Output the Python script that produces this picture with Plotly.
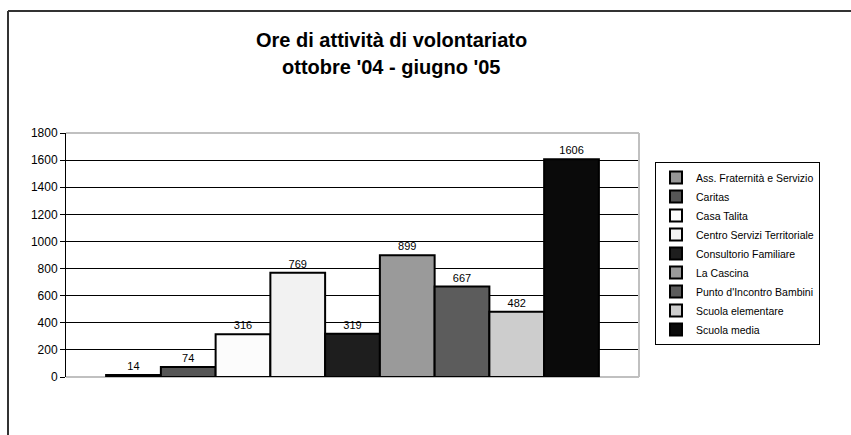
import plotly.graph_objects as go

categories = ["Ass. Fraternità e Servizio", "Caritas", "Casa Talita",
              "Centro Servizi Territoriale", "Consultorio Familiare", "La Cascina",
              "Punto d'Incontro Bambini", "Scuola elementare", "Scuola media"]
values = [14, 74, 316, 769, 319, 899, 667, 482, 1606]
colors = ["#969696", "#555555", "#fcfcfc", "#f2f2f2", "#1e1e1e",
          "#9a9a9a", "#5c5c5c", "#cdcdcd", "#0a0a0a"]
y_ticks = [0, 200, 400, 600, 800, 1000, 1200, 1400, 1600, 1800]
title_lines = ["Ore di attività di volontariato", "ottobre '04 - giugno '05"]

FONT = "Liberation Sans, Arial, sans-serif"

W, H = 851, 435
L, R, T, B = 66, 212, 133, 58
pw = W - L - R
ph = H - T - B

def px_x(p):
    return (p - L) / pw

def px_y(p):
    return (H - B - p) / ph

fig = go.Figure()
for name, v, c in zip(categories, values, colors):
    fig.add_trace(go.Bar(
        x=[""], y=[v], name=name,
        marker=dict(color=c, line=dict(color="#000000", width=2)),
        text=[str(v)], textposition="outside", cliponaxis=False,
        textfont=dict(family=FONT, size=11, color="#000000"),
    ))

fig.update_layout(
    width=W, height=H, autosize=False,
    margin=dict(l=L, r=R, t=T, b=B),
    paper_bgcolor="white", plot_bgcolor="white",
    barmode="group", bargap=0.14, bargroupgap=0,
    showlegend=True,
    font=dict(family=FONT, color="#000000"),
    legend=dict(
        x=px_x(655), y=px_y(162), xanchor="left", yanchor="top",
        bordercolor="#000000", borderwidth=1, bgcolor="white",
        font=dict(family=FONT, size=10.5, color="#000000"),
        traceorder="normal",
    ),
    xaxis=dict(showticklabels=False, ticks="", showgrid=False, zeroline=False,
               showline=False),
    yaxis=dict(range=[0, 1800], tickvals=y_ticks, ticks="outside", ticklen=5,
               tickcolor="#000000", showline=True, linecolor="#000000", linewidth=1,
               showgrid=True, gridcolor="#000000", gridwidth=1,
               zeroline=True, zerolinecolor="#c0c0c0", zerolinewidth=2,
               tickfont=dict(family=FONT, size=12, color="#000000")),
)

# plot area border (gray) top & right
fig.add_shape(type="line", xref="paper", yref="paper", x0=0, x1=1, y0=1, y1=1,
              line=dict(color="#c0c0c0", width=2), layer="above")
fig.add_shape(type="line", xref="paper", yref="paper", x0=1, x1=1, y0=0, y1=1,
              line=dict(color="#c0c0c0", width=2), layer="above")

# outer chart frame (cropped on right and bottom)
fx = px_x(8)
fy = px_y(11)
fig.add_shape(type="line", xref="paper", yref="paper", x0=fx, x1=fx, y0=px_y(460), y1=fy,
              line=dict(color="#333333", width=2), layer="above")
fig.add_shape(type="line", xref="paper", yref="paper", x0=fx, x1=px_x(880), y0=fy, y1=fy,
              line=dict(color="#333333", width=2), layer="above")

# title
for txt, yp in zip(title_lines, [40, 67]):
    fig.add_annotation(text="<b>" + txt + "</b>", xref="paper", yref="paper",
                       x=px_x(391), y=px_y(yp), xanchor="center", yanchor="middle",
                       showarrow=False, font=dict(family=FONT, size=20, color="#000000"))

fig.write_html("out.html", config={"displayModeBar": False},
               post_script="document.body.style.margin='0px';")
